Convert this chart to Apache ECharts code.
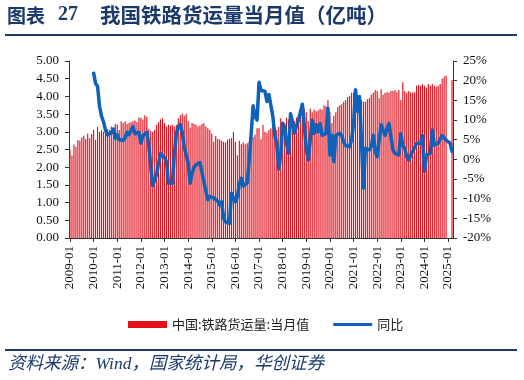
<!DOCTYPE html>
<html>
<head>
<meta charset="utf-8">
<script src="https://cdn.jsdelivr.net/npm/echarts@6/dist/echarts.min.js"></script>
<style>
html,body{margin:0;padding:0;background:#fff;}
#c{width:524px;height:380px;}
</style>
</head>
<body>
<div id="c"></div>
<script>
// ---- data ----
const years = [2009,2010,2011,2012,2013,2014,2015,2016,2017,2018,2019,2020,2021,2022,2023,2024,2025];
const monthCount2025 = 3;
const volume2009 = [2.50,2.33,2.64,2.58,2.77,2.75,2.84,2.89,2.80,2.95,2.82,2.94];
const volume2010 = [3.06,2.77,3.14,2.99,3.05,3.00,3.02,3.08,3.05,3.15,3.12,3.22];
const volume2011 = [3.20,3.05,3.30,3.25,3.30,3.22,3.25,3.28,3.30,3.32,3.28,3.40];
const volume2012 = [3.40,3.35,3.47,3.42,3.08,3.02,3.00,3.05,3.20,3.28,3.35,3.38];
const volume2013 = [3.25,3.15,3.20,3.18,3.20,3.15,3.20,3.38,3.47,3.52,3.45,3.50];
const volume2014 = [3.30,3.12,3.25,3.22,3.20,3.15,3.18,3.22,3.24,3.15,3.10,3.05];
const volume2015 = [2.95,2.72,2.88,2.80,2.78,2.75,2.72,2.70,2.78,2.80,2.82,3.00];
const volume2016 = [2.72,2.34,2.75,2.65,2.70,2.65,2.68,2.72,2.78,2.85,2.92,3.10];
const volume2017 = [3.10,2.79,3.19,3.00,2.97,3.05,3.10,3.14,3.15,3.05,3.14,3.38];
const volume2018 = [3.30,3.25,3.40,3.35,3.40,3.35,3.30,3.40,3.45,3.50,3.52,3.65];
const volume2019 = [3.55,3.30,3.65,3.55,3.62,3.58,3.60,3.65,3.62,3.75,3.72,3.90];
const volume2020 = [3.55,3.25,3.45,3.55,3.70,3.75,3.78,3.85,3.90,3.98,4.02,4.10];
const volume2021 = [4.10,3.85,4.05,3.88,3.90,3.85,3.85,3.92,3.95,4.05,4.10,4.18];
const volume2022 = [4.15,3.95,4.20,4.05,4.10,4.12,4.10,4.15,4.15,4.18,4.12,4.18];
const volume2023 = [3.90,4.40,4.15,4.10,4.15,4.12,4.10,4.12,4.30,4.32,4.30,4.35];
const volume2024 = [4.30,4.25,4.35,4.30,4.35,4.30,4.28,4.30,4.35,4.50,4.56,4.58];
const volume2025 = [null,null,4.46];

// YoY (%) starts 2010-01
const yoy2010 = [21.9,19.3,18.6,13.5,11.0,9.6,7.5,6.2,6.3,6.8,7.7,5.3];
const yoy2011 = [6.3,5.0,4.7,4.8,5.5,6.9,6.3,6.8,8.3,6.5,6.7,6.9];
const yoy2012 = [4.1,6.0,6.5,6.9,3.6,-1.5,-6.7,-6.5,-3.8,-1.0,1.5,1.8];
const yoy2013 = [0.5,-0.6,-6.1,-6.2,-6.1,1.5,6.5,8.3,8.9,6.9,3.2,3.6];
const yoy2014 = [-1.0,-6.1,-3.6,-2.0,-1.4,-0.9,-0.8,-0.8,-5.7,-6.1,-10.3,-9.5];
const yoy2015 = [-9.6,-9.8,-10.1,-10.6,-11.6,-10.8,-15.0,-15.9,-16.2,-16.3,-8.6,-9.8];
const yoy2016 = [-10.8,-9.5,-6.2,-4.8,-6.8,-6.3,-5.9,-0.3,6.5,13.6,10.8,10.0];
const yoy2017 = [19.6,17.5,17.0,17.3,14.7,16.5,17.0,11.0,6.0,4.0,-2.5,1.0];
const yoy2018 = [9.1,8.3,4.0,1.5,11.6,9.5,6.6,8.5,10.0,12.0,14.0,13.8];
const yoy2019 = [2.8,-0.2,5.0,10.0,6.6,8.8,7.0,9.1,6.1,6.6,6.6,13.0];
const yoy2020 = [1.1,6.1,-0.6,6.1,6.6,6.6,6.0,4.4,3.5,3.3,3.2,5.0];
const yoy2021 = [9.0,17.7,12.2,16.0,5.0,-7.3,2.8,2.5,2.4,3.2,6.1,2.0];
const yoy2022 = [0.7,5.0,8.8,9.1,6.1,7.8,9.1,8.8,2.4,1.5,1.1,1.1];
const yoy2023 = [6.6,3.5,2.8,0.7,-0.2,1.1,1.5,3.0,4.1,4.4,4.1,6.1];
const yoy2024 = [-3.1,1.1,1.3,1.5,7.5,3.6,4.1,4.1,3.6,6.1,6.1,4.9];
const yoy2025 = [4.5,4.1,2.0];

const leftTicks = {min:0, max:5, interval:0.5};
const rightTicks = {min:-20, max:25, interval:5};
const barName = '中国:铁路货运量:当月值';
const lineName = '同比';

// ---- build ----
const categories = [];
years.forEach(y => {
  const n = (y === 2025) ? monthCount2025 : 12;
  for (let m = 1; m <= n; m++) categories.push(y + '-' + (m < 10 ? '0' + m : m));
});
const volume = [].concat(volume2009,volume2010,volume2011,volume2012,volume2013,volume2014,volume2015,volume2016,
  volume2017,volume2018,volume2019,volume2020,volume2021,volume2022,volume2023,volume2024,volume2025);
const yoyTail = [].concat(yoy2010,yoy2011,yoy2012,yoy2013,yoy2014,yoy2015,yoy2016,yoy2017,yoy2018,yoy2019,
  yoy2020,yoy2021,yoy2022,yoy2023,yoy2024,yoy2025);
const yoy = new Array(12).fill(null).concat(yoyTail);

const navy = '#1B3A6B';
const serif = "'Liberation Serif','Times New Roman',serif";
const cjk = "'Noto Sans CJK SC',sans-serif";
const barColor = '#E3101B';
const lineColor = '#0F62BA';

const chart = echarts.init(document.getElementById('c'), null, {renderer:'canvas'});
chart.setOption({
  animation:false,
  backgroundColor:'#fff',
  grid:{left:69, right:71, top:61, bottom:142, containLabel:false},
  legend:{
    left:123, top:313, itemWidth:39, itemHeight:7, itemGap:24,
    textStyle:{fontFamily:cjk, fontSize:13, color:'#222'},
    data:[
      {name:barName, icon:'rect'},
      {name:lineName, icon:'path://M0,0 L40,0 L40,3.2 L0,3.2 Z', itemStyle:{color:lineColor}}
    ]
  },
  xAxis:{
    type:'category', data:categories, boundaryGap:true,
    axisLine:{lineStyle:{color:'#333', width:1}},
    axisTick:{show:true, interval:11, alignWithLabel:true, length:4, lineStyle:{color:'#333'}},
    axisLabel:{interval:11, rotate:90, margin:8, fontFamily:serif, fontSize:13, color:'#111'}
  },
  yAxis:[
    {type:'value', min:leftTicks.min, max:leftTicks.max, interval:leftTicks.interval,
     axisLine:{show:true, lineStyle:{color:'#333'}},
     axisTick:{show:true, length:4, lineStyle:{color:'#333'}},
     splitLine:{show:false},
     axisLabel:{formatter:v => v.toFixed(2), fontFamily:serif, fontSize:13, color:'#111', margin:10}},
    {type:'value', position:'right', min:rightTicks.min, max:rightTicks.max, interval:rightTicks.interval,
     axisLine:{show:true, lineStyle:{color:'#333'}},
     axisTick:{show:true, length:4, lineStyle:{color:'#333'}},
     splitLine:{show:false},
     axisLabel:{formatter:'{value}%', fontFamily:serif, fontSize:13, color:'#111', margin:10}}
  ],
  series:[
    {name:barName, type:'bar', data:volume, yAxisIndex:0, barWidth:'58%',
     itemStyle:{color:barColor}},
    {name:lineName, type:'line', data:yoy, yAxisIndex:1, symbol:'none', connectNulls:false,
     lineStyle:{color:lineColor, width:3.5, join:'round', cap:'round'},
     itemStyle:{color:lineColor}}
  ],
  graphic:[
    {type:'text', left:7, top:6, style:{text:'图表', fontFamily:cjk, fontWeight:'bold', fontSize:19, fill:navy}},
    {type:'text', left:58, top:5, style:{text:'27', fontFamily:serif, fontWeight:'bold', fontSize:20, fill:navy}},
    {type:'text', left:100, top:5, style:{text:'我国铁路货运量当月值（亿吨）', fontFamily:cjk, fontWeight:'bold', fontSize:20.5, fill:navy}},
    {type:'line', shape:{x1:5, y1:35, x2:517, y2:35}, style:{stroke:navy, lineWidth:2}},
    {type:'line', shape:{x1:5, y1:350, x2:517, y2:350}, style:{stroke:navy, lineWidth:2}},
    {type:'text', left:8, top:356, style:{text:'资料来源：Wind，国家统计局，华创证券', fontFamily:serif+","+cjk, fontStyle:'italic', fontSize:17.5, fill:navy}}
  ]
});
</script>
</body>
</html>
